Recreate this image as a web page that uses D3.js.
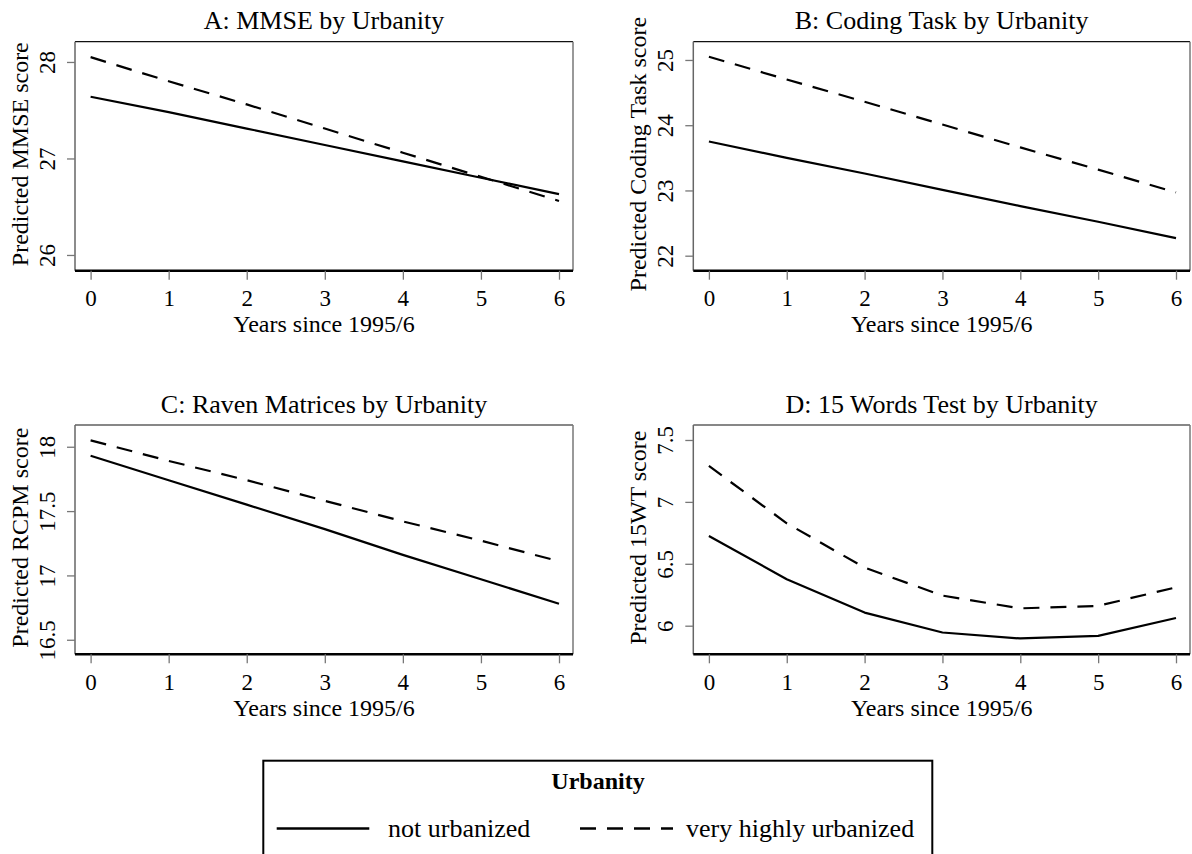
<!DOCTYPE html>
<html>
<head>
<meta charset="utf-8">
<script src="https://cdn.jsdelivr.net/npm/d3@7"></script>
<style>
  html, body { margin: 0; padding: 0; background: #fff; }
  svg { display: block; }
  text { font-family: "Liberation Serif", "Times New Roman", serif; fill: #000; }
</style>
</head>
<body>
<div id="chart"></div>
<script>
// ---------------- data ----------------
const years = [0, 1, 2, 3, 4, 5, 6];
const xTicks = [0, 1, 2, 3, 4, 5, 6];

const mmseNot   = [27.64, 27.48, 27.31, 27.14, 26.97, 26.80, 26.63];
const mmseUrban = [28.05, 27.80, 27.56, 27.31, 27.06, 26.81, 26.56];

const codingNot   = [23.75, 23.50, 23.26, 23.01, 22.76, 22.52, 22.27];
const codingUrban = [25.05, 24.70, 24.36, 24.01, 23.66, 23.32, 22.97];

const ravenNot   = [17.93, 17.74, 17.55, 17.36, 17.16, 16.97, 16.78];
const ravenUrban = [18.05, 17.89, 17.74, 17.58, 17.42, 17.27, 17.11];

const wordsNot   = [6.725, 6.375, 6.106, 5.945, 5.897, 5.918, 6.062];
const wordsUrban = [7.29, 6.827, 6.469, 6.243, 6.14, 6.16, 6.31];

const mmseTicks   = [26, 27, 28];
const codingTicks = [22, 23, 24, 25];
const ravenTicks  = [16.5, 17, 17.5, 18];
const wordsTicks  = [6, 6.5, 7, 7.5];

const seriesNames = ["not urbanized", "very highly urbanized"];
const legendTitle = "Urbanity";
const xTitle = "Years since 1995/6";

// ---------------- layout ----------------
const W = 1192, H = 854;
const FS_TICK = 23, FS_AXT = 24, FS_TITLE = 26, FS_LEG = 26;
const DASH = "16,11";

const svg = d3.select("#chart").append("svg")
  .attr("width", W).attr("height", H);

const panels = [
  { title: "A: MMSE by Urbanity", ytitle: "Predicted MMSE score",
    not: mmseNot, urb: mmseUrban, ticks: mmseTicks, dom: [25.837, 28.21],
    left: 75, right: 573, top: 41.7, bottom: 270.7 },
  { title: "B: Coding Task by Urbanity", ytitle: "Predicted Coding Task score",
    not: codingNot, urb: codingUrban, ticks: codingTicks, dom: [21.77, 25.28],
    left: 693.3, right: 1190, top: 41.7, bottom: 270.7 },
  { title: "C: Raven Matrices by Urbanity", ytitle: "Predicted RCPM score",
    not: ravenNot, urb: ravenUrban, ticks: ravenTicks, dom: [16.387, 18.169],
    left: 75, right: 573, top: 425, bottom: 654.3 },
  { title: "D: 15 Words Test by Urbanity", ytitle: "Predicted 15WT score",
    not: wordsNot, urb: wordsUrban, ticks: wordsTicks, dom: [5.769, 7.621],
    left: 693.3, right: 1190, top: 425, bottom: 654.3 }
];

panels.forEach(p => {
  const g = svg.append("g");
  const x = d3.scaleLinear().domain([0, 6]).range([p.left + 15.6, p.right - 14]);
  const y = d3.scaleLinear().domain(p.dom).range([p.bottom, p.top]);
  const cx = (p.left + p.right) / 2;
  const cy = (p.top + p.bottom) / 2;

  // plot region frame
  g.append("line").attr("x1", p.left).attr("x2", p.right).attr("y1", p.top).attr("y2", p.top)
    .attr("stroke", "#111").attr("stroke-width", 1.2);
  g.append("line").attr("x1", p.right).attr("x2", p.right).attr("y1", p.top).attr("y2", p.bottom)
    .attr("stroke", "#777").attr("stroke-width", 1.5);

  // y axis
  const ya = g.append("g").attr("transform", `translate(${p.left},0)`)
    .call(d3.axisLeft(y).tickValues(p.ticks).tickSize(8).tickSizeOuter(0).tickFormat(d => String(d)));
  ya.select(".domain").attr("stroke", "#666").attr("stroke-width", 1.5)
    .attr("d", `M0,${p.top}V${p.bottom}`);
  ya.selectAll(".tick line").attr("stroke", "#777").attr("stroke-width", 1.3);
  ya.selectAll(".tick text")
    .attr("transform", "rotate(-90)")
    .attr("x", 0).attr("y", -20).attr("dy", 0)
    .attr("text-anchor", "middle")
    .style("font-family", "Liberation Serif").style("font-size", FS_TICK + "px").attr("fill", "#000");

  // x axis
  const xa = g.append("g").attr("transform", `translate(0,${p.bottom})`)
    .call(d3.axisBottom(x).tickValues(xTicks).tickSize(9).tickSizeOuter(0).tickFormat(d3.format("d")));
  xa.select(".domain").attr("stroke", "#000").attr("stroke-width", 2.5)
    .attr("d", `M${p.left},0H${p.right}`);
  xa.selectAll(".tick line").attr("stroke", "#777").attr("stroke-width", 1.3);
  xa.selectAll(".tick text")
    .attr("y", 35.8).attr("dy", 0)
    .style("font-family", "Liberation Serif").style("font-size", FS_TICK + "px").attr("fill", "#000");

  // series lines
  const line = d3.line().x((d, i) => x(years[i])).y(d => y(d));
  g.append("path").datum(p.not).attr("d", line)
    .attr("fill", "none").attr("stroke", "#000").attr("stroke-width", 2.2)
    .attr("stroke-linejoin", "round");
  g.append("path").datum(p.urb).attr("d", line)
    .attr("fill", "none").attr("stroke", "#000").attr("stroke-width", 2.2)
    .attr("stroke-dasharray", DASH);

  // titles
  g.append("text").attr("x", cx).attr("y", p.top - 12.3)
    .attr("text-anchor", "middle").style("font-size", FS_TITLE + "px").text(p.title);
  g.append("text").attr("x", cx).attr("y", p.bottom + 61.5)
    .attr("text-anchor", "middle").style("font-size", FS_AXT + "px").text(xTitle);
  g.append("text")
    .attr("transform", `translate(${p.left - 47},${cy - 2}) rotate(-90)`)
    .attr("text-anchor", "middle").style("font-size", FS_AXT + "px").text(p.ytitle);
});

// ---------------- legend ----------------
const lg = svg.append("g");
lg.append("rect").attr("x", 263.3).attr("y", 760.7).attr("width", 669).attr("height", 200)
  .attr("fill", "#fff").attr("stroke", "#000").attr("stroke-width", 2);
lg.append("text").attr("x", 598).attr("y", 789).attr("text-anchor", "middle")
  .style("font-size", "24px").style("font-weight", "bold").text(legendTitle);

const legendItems = [
  { name: seriesNames[0], dash: null, x1: 276.7, x2: 369.3, tx: 388 },
  { name: seriesNames[1], dash: DASH, x1: 580, x2: 673, tx: 686 }
];
legendItems.forEach(it => {
  const l = lg.append("line").attr("x1", it.x1).attr("x2", it.x2).attr("y1", 828.5).attr("y2", 828.5)
    .attr("stroke", "#000").attr("stroke-width", 2.6);
  if (it.dash) l.attr("stroke-dasharray", it.dash);
  lg.append("text").attr("x", it.tx).attr("y", 837).style("font-size", FS_LEG + "px").text(it.name);
});
</script>
</body>
</html>
